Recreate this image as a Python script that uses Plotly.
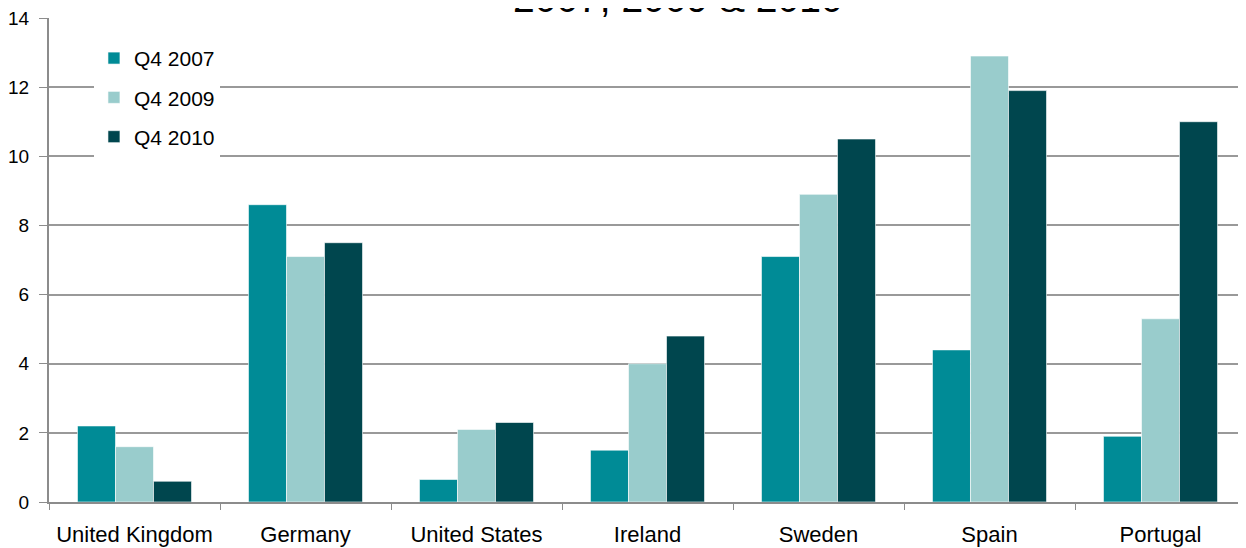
import plotly.graph_objects as go

countries = ["United Kingdom", "Germany", "United States", "Ireland", "Sweden", "Spain", "Portugal"]
q4_2007 = [2.2, 8.6, 0.65, 1.5, 7.1, 4.4, 1.9]
q4_2009 = [1.6, 7.1, 2.1, 4.0, 8.9, 12.9, 5.3]
q4_2010 = [0.6, 7.5, 2.3, 4.8, 10.5, 11.9, 11.0]
series_names = ["Q4 2007", "Q4 2009", "Q4 2010"]
colors = ["#008B96", "#99CCCC", "#00464E"]
y_ticks = [0, 2, 4, 6, 8, 10, 12, 14]

fig = go.Figure()
for i, (name, vals) in enumerate(zip(series_names, [q4_2007, q4_2009, q4_2010])):
    fig.add_trace(go.Bar(
        x=countries, y=vals, name=name, legendgroup=name,
        marker=dict(color=colors[i], line=dict(color="rgba(255,255,255,0.6)", width=1)),
    ))

fig.add_annotation(
    text="2007, 2009 & 2010", xref="paper", yref="paper",
    x=(678 - 48) / 1198, y=1.0, xanchor="center", yanchor="bottom",
    yshift=-4, showarrow=False,
    font=dict(size=39, color="#000000", family="Liberation Sans, Arial"),
)

fig.update_layout(
    width=1238, height=540,
    margin=dict(l=40, r=0, t=8, b=46),
    paper_bgcolor="white", plot_bgcolor="white",
    barmode="group", bargap=0.333, bargroupgap=0,
    font=dict(family="Liberation Sans, Arial", color="#000000"),
    showlegend=True,
    legend=dict(
        x=(93 - 48) / 1198, y=(502 - 36) / 486, xanchor="left", yanchor="top",
        bgcolor="white", font=dict(size=21), tracegroupgap=9,
        traceorder="grouped",
    ),
    xaxis=dict(
        showline=True, linecolor="#8C8C8C", linewidth=2,
        ticks="outside", tickson="boundaries", ticklen=6, tickcolor="#8C8C8C",
        tickfont=dict(size=22), showgrid=False, ticklabelstandoff=12,
    ),
    yaxis=dict(
        range=[0, 14], tickvals=y_ticks, showline=True, linecolor="#8C8C8C", linewidth=2,
        ticks="outside", ticklen=8, tickcolor="#8C8C8C",
        showgrid=True, gridcolor="#999999", gridwidth=1.5, zeroline=False,
        tickfont=dict(size=19), ticklabelstandoff=6, ticklabeloverflow="allow",
    ),
)

fig.write_html("out.html")
